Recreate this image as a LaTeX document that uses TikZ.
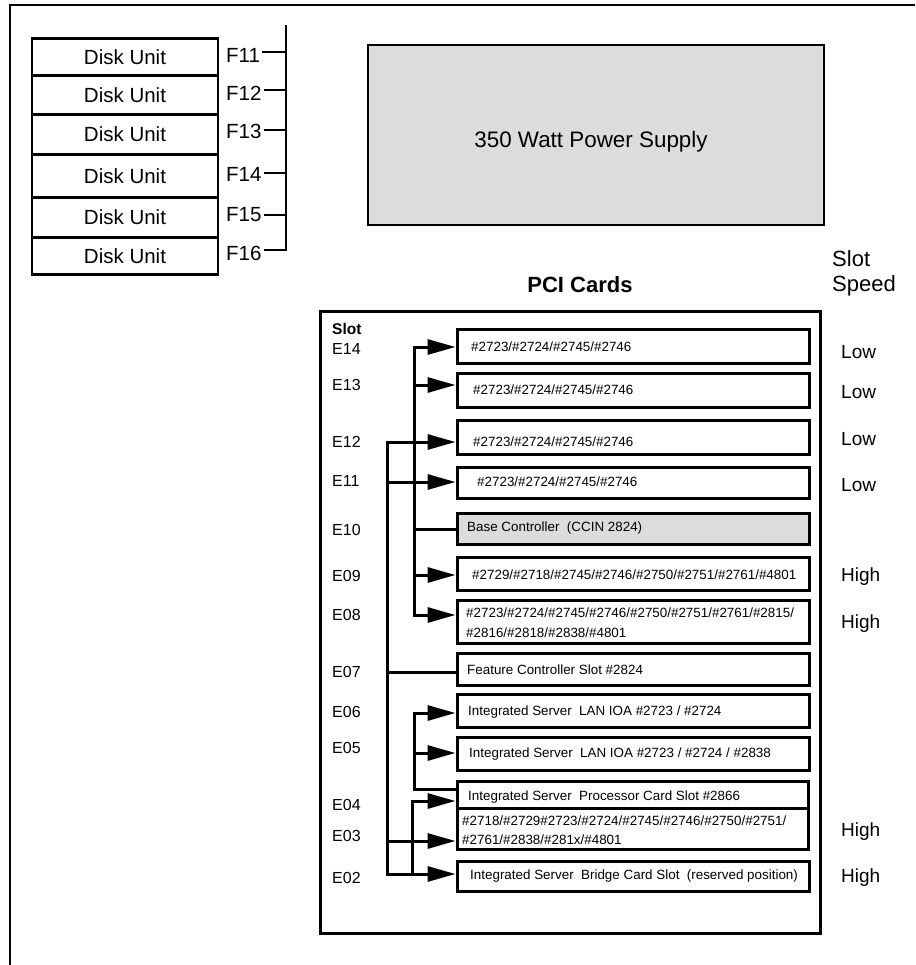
\documentclass[tikz,border=0pt]{standalone}
\usepackage{fontspec}
\setmainfont{Liberation Sans}
\usetikzlibrary{arrows.meta}
\definecolor{lgray}{RGB}{220,220,220}
\begin{document}
\begin{tikzpicture}[x=1pt,y=-1pt,
  frameline/.style={line width=2.8pt},
  disk/.style={draw, line width=2.6pt, minimum width=186pt, inner sep=0pt, anchor=north, font=\fontsize{20.5}{24}\selectfont},
  flab/.style={anchor=west, inner sep=0pt, text depth=0pt, font=\fontsize{20.5}{24}\selectfont},
  tick/.style={line width=2.6pt},
  card/.style={draw, line width=3pt, minimum width=352pt, inner sep=0pt},
  ctext/.style={anchor=west, inner sep=0pt, font=\fontsize{13.4}{20}\selectfont, align=left},
  elab/.style={anchor=west, inner sep=0pt, text depth=0pt, font=\fontsize{16}{19}\selectfont},
  spd/.style={anchor=west, inner sep=0pt, text depth=0pt, font=\fontsize{19}{22}\selectfont},
  hdr/.style={anchor=west, inner sep=0pt, font=\fontsize{22}{26}\selectfont},
  bus/.style={line width=3pt},
  arr/.style={line width=3pt, -{Triangle[length=28pt,width=15pt]}},
  arrs/.style={line width=3pt, {Triangle[length=28pt,width=15pt]}-},
  arrb/.style={line width=3pt, {Triangle[length=28pt,width=15pt]}-{Triangle[length=28pt,width=15pt]}},
]
\useasboundingbox (0,0) rectangle (915,965);

% outer frame (partial)
\coordinate (fbl) at (10,965);
\coordinate (ftl) at (10,5);
\coordinate (ftr) at (915,5);
\draw[frameline] (fbl) -- (ftl) -- (ftr);

% disk units
\node[disk, minimum height=37pt] (d1) at (125,37) {Disk Unit};
\node[disk, minimum height=39pt] (d2) at (125,74) {Disk Unit};
\node[disk, minimum height=40pt] (d3) at (125,113) {Disk Unit};
\node[disk, minimum height=43pt] (d4) at (125,153) {Disk Unit};
\node[disk, minimum height=40pt] (d5) at (125,196) {Disk Unit};
\node[disk, minimum height=37pt] (d6) at (125,236) {Disk Unit};

% F labels
\node[flab] (f1) at (226,55) {F11};
\node[flab] (f2) at (226,93) {F12};
\node[flab] (f3) at (226,131) {F13};
\node[flab] (f4) at (226,174) {F14};
\node[flab] (f5) at (226,214) {F15};
\node[flab] (f6) at (226,253) {F16};
\coordinate (vt) at (286,25);
\coordinate (k1) at (286,52);
\coordinate (k2) at (286,90);
\coordinate (k3) at (286,130);
\coordinate (k4) at (286,173);
\coordinate (k5) at (286,215);
\coordinate (k6) at (286,250);
\draw[tick] (vt) -- (k6) -- ([xshift=2pt]f6.east |- k6);
\foreach \i in {1,...,5}{
  \draw[tick] ([xshift=2pt]f\i.east |- k\i) -- (k\i);
}

% power supply
\node[draw, line width=2.8pt, fill=lgray, minimum width=456pt, minimum height=180pt, inner sep=0pt] (ps) at (596,135) {};
\node[inner sep=0pt, font=\fontsize{22.4}{26}\selectfont] (pst) at (591,142) {350 Watt Power Supply};

% headings
\node[inner sep=0pt, font=\fontsize{22}{26}\selectfont\bfseries] (pcit) at (580,285) {PCI Cards};
\node[hdr, text depth=0pt] (sl) at (832,259) {Slot};
\node[hdr] (sp) at (832,286) {Speed};

% PCI box
\node[draw, line width=2.5pt, minimum width=500pt, minimum height=622pt, anchor=north west, inner sep=0pt] (pci) at (319,310) {};

% slot labels
\node[elab, font=\fontsize{15.5}{19}\selectfont\bfseries] (slot) at (332,329) {Slot};
\node[elab] (e14) at (332,349) {E14};
\node[elab] (e13) at (332,385) {E13};
\node[elab] (e12) at (332,442) {E12};
\node[elab] (e11) at (332,481) {E11};
\node[elab] (e10) at (332,530) {E10};
\node[elab] (e09) at (332,576) {E09};
\node[elab] (e08) at (332,615) {E08};
\node[elab] (e07) at (332,672) {E07};
\node[elab] (e06) at (332,712) {E06};
\node[elab] (e05) at (332,748) {E05};
\node[elab] (e04) at (332,805) {E04};
\node[elab] (e03) at (332,836) {E03};
\node[elab] (e02) at (332,878) {E02};

% cards
\node[card, minimum height=34pt] (c1) at (633,346) {};
\node[card, minimum height=34pt] (c2) at (633,390) {};
\node[card, minimum height=34pt] (c3) at (633,437) {};
\node[card, minimum height=31pt] (c4) at (633,482.5) {};
\node[card, minimum height=31pt, fill=lgray] (c5) at (633,528.5) {};
\node[card, minimum height=33pt] (c6) at (633,573.5) {};
\node[card, minimum height=43pt] (c7) at (633,621.5) {};
\node[card, minimum height=32pt] (c8) at (633,669) {};
\node[card, minimum height=33pt] (c9) at (633,710.5) {};
\node[card, minimum height=33pt] (c10) at (633,753.5) {};
\node[card, minimum height=27pt, minimum width=351pt] (c11) at (632.5,794.5) {};
\node[card, minimum height=41pt, minimum width=351pt] (c12) at (632.5,828.5) {};
\node[card, minimum height=30pt] (c13) at (633,876) {};

% card texts
\node[ctext] (t1) at (471,347) {\#2723/\#2724/\#2745/\#2746};
\node[ctext] (t2) at (473,390) {\#2723/\#2724/\#2745/\#2746};
\node[ctext] (t3) at (473,442) {\#2723/\#2724/\#2745/\#2746};
\node[ctext] (t4) at (477,482) {\#2723/\#2724/\#2745/\#2746};
\node[ctext] (t5) at (467,528) {Base Controller\ \ (CCIN 2824)};
\node[ctext] (t6) at (472,575) {\#2729/\#2718/\#2745/\#2746/\#2750/\#2751/\#2761/\#4801};
\node[ctext] (t7) at (466,623) {\#2723/\#2724/\#2745/\#2746/\#2750/\#2751/\#2761/\#2815/\\\#2816/\#2818/\#2838/\#4801};
\node[ctext] (t8) at (467,670) {Feature Controller Slot \#2824};
\node[ctext] (t9) at (468,712) {Integrated Server\ \ LAN IOA \#2723 / \#2724};
\node[ctext] (t10) at (469,754) {Integrated Server\ \ LAN IOA \#2723 / \#2724 / \#2838};
\node[ctext] (t11) at (468,797) {Integrated Server\ \ Processor Card Slot \#2866};
\node[ctext, font=\fontsize{13.4}{19}\selectfont] (t12) at (462,830) {\#2718/\#2729\#2723/\#2724/\#2745/\#2746/\#2750/\#2751/\\\#2761/\#2838/\#281x/\#4801};
\node[ctext] (t13) at (470,876) {Integrated Server\ \ Bridge Card Slot\ \ (reserved position)};

% speed labels
\node[spd] (s14) at (841,352) {Low};
\node[spd] (s13) at (841,392) {Low};
\node[spd] (s12) at (841,439) {Low};
\node[spd] (s11) at (841,485) {Low};
\node[spd] (s09) at (841,575) {High};
\node[spd] (s08) at (841,622) {High};
\node[spd] (s03) at (841,830) {High};
\node[spd] (s02) at (841,876) {High};

% bus A
\coordinate (a1) at (414,347);
\coordinate (a2) at (414,385);
\coordinate (a5) at (414,529);
\coordinate (a6) at (414,575);
\coordinate (a7) at (414,615);
\draw[arrb] (a1 -| c1.west) -- (a1) -- (a7) -- (a7 -| c7.west);
\draw[arr] (a2) -- (a2 -| c2.west);
\draw[bus] (a5) -- (a5 -| c5.west);
\draw[arr] (a6) -- (a6 -| c6.west);

% bus B
\coordinate (b3) at (387,442);
\coordinate (b4) at (387,482);
\coordinate (b8) at (387,672);
\coordinate (b12) at (387,841);
\coordinate (b13) at (387,874);
\draw[arrb] (b3 -| c3.west) -- (b3) -- (b13) -- (b13 -| c13.west);
\draw[arr] (b4) -- (b4 -| c4.west);
\draw[bus] (b8) -- (b8 -| c8.west);
\draw[arr] (b12) -- (b12 -| c12.west);

% bus C
\coordinate (cc9) at (414,713);
\coordinate (cc10) at (414,753);
\coordinate (cc11) at (414,789);
\draw[arrs] (cc9 -| c9.west) -- (cc9) -- (cc11) -- (cc11 -| c11.west);
\draw[arr] (cc10) -- (cc10 -| c10.west);

% bus D
\coordinate (dd11) at (412,801);
\coordinate (dd13) at (412,874);
\draw[arrs] (dd11 -| c11.west) -- (dd11) -- (dd13);
\end{tikzpicture}
\end{document}
